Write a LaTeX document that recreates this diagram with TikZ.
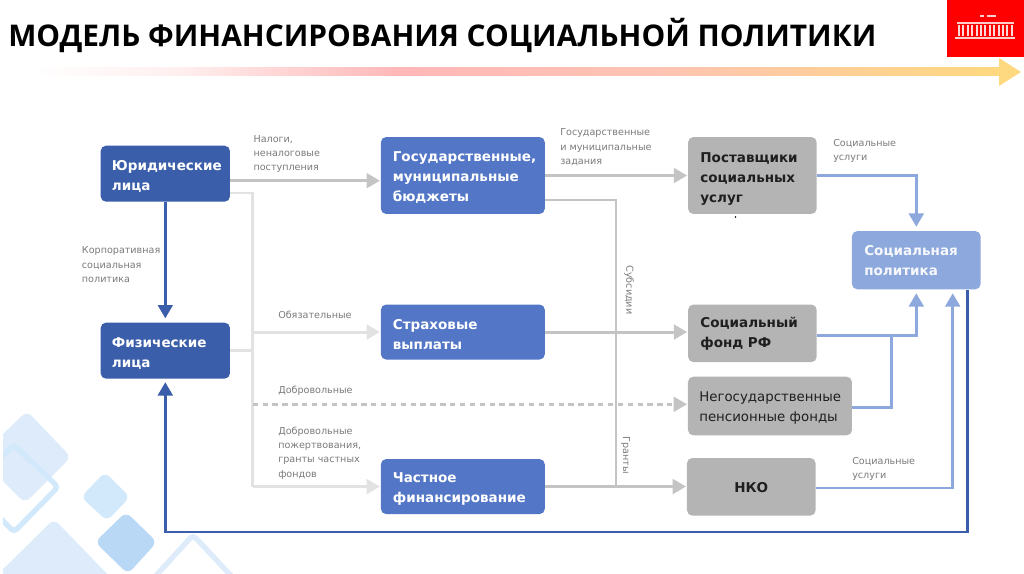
\documentclass[tikz,border=0pt]{standalone}
\usepackage{fontspec}
\setmainfont{DejaVu Sans}
\newfontfamily\titlefont{Open Sans}
\usetikzlibrary{positioning,arrows.meta,calc}
\definecolor{navybox}{HTML}{3A5EA9}
\definecolor{midbox}{HTML}{5377C6}
\definecolor{skybox}{HTML}{8DA8DC}
\definecolor{ashbox}{HTML}{B4B4B4}
\definecolor{ashline}{HTML}{C4C4C4}
\definecolor{paleline}{HTML}{E2E2E2}
\definecolor{tiletint}{HTML}{DDEBFA}
\definecolor{rimtint}{HTML}{D2E9FB}
\definecolor{deeptint}{HTML}{B9D8F6}
\definecolor{bandend}{HTML}{FFD97F}
\pgfdeclarehorizontalshading{bandshade}{100bp}{
    color(0bp)=(white); color(25bp)=(white); color(32.5bp)=(red!6); color(44bp)=(red!28);
    color(57.5bp)=(orange!45!red!30); color(75bp)=(bandend); color(100bp)=(bandend)
}
\tikzset{
    dropped/.style={execute at begin node={\rule{0pt}{#1}}},
    finbox/.style={
        rounded corners=4pt,draw=none,align=left,inner sep=0pt,font=\bfseries\fontsize{10.15}{15}\selectfont,
        minimum height=#1
    },
    navynode/.style={finbox=42pt,fill=navybox,text=white,minimum width=97pt,text width=80pt,dropped=11.1pt},
    bluenode/.style={finbox=#1,fill=midbox,text=white,minimum width=123pt,text width=105pt,dropped=10.6pt},
    ashnode/.style={finbox=#1,fill=ashbox,text=black!88,minimum width=96.5pt,text width=78pt},
    lbl/.style={
        anchor=north west,inner sep=0pt,align=left,text=black!52,font=\fontsize{7.2}{10.6}\selectfont
    },
    sidelbl/.style={inner sep=0pt,text=black!52,font=\fontsize{7.2}{10.6}\selectfont,rotate=-90},
    flow/.style={line width=2.2pt,-{Triangle[length=10pt,width=11pt]},shorten >=.5pt},
    bus/.style={line width=2.2pt},
    tile/.style={fill=tiletint,rounded corners=5pt},
    tilerim/.style={draw=rimtint,line width=4pt,rounded corners=3pt}
}

\begin{document}
\begin{tikzpicture}[x=.75pt,y=-.75pt]
\useasboundingbox (0,0) rectangle (1024,574);

% tiles in the corner
\begin{scope}
\clip (3,400) rectangle (300,574);
\fill[tile] (27,411) -- (71,457) -- (25,503) -- (-21,457) -- cycle;
\draw[tilerim] (14,445) -- (58,487) -- (14,532) -- (-30,487) -- cycle;
\fill[tile,fill=rimtint] (105,472) -- (130,497) -- (107,521) -- (81,497) -- cycle;
\fill[tile,fill=deeptint] (126,512) -- (157,542) -- (128,574) -- (95,542) -- cycle;
\fill[tile] (54,519) -- (115,582) -- (-10,582) -- cycle;
\draw[tilerim,draw=tiletint] (193,535) -- (235,580) -- (152,580) -- cycle;
\end{scope}

% header
\node[anchor=west,inner sep=0pt,font=\titlefont\bfseries\fontsize{22.4}{26}\selectfont] (title) at (8,35) {МОДЕЛЬ ФИНАНСИРОВАНИЯ СОЦИАЛЬНОЙ ПОЛИТИКИ};
\shade[shading=bandshade] (30,68) rectangle (1000,76);
\fill[bandend] (999,58) -- (1021,72) -- (999,86) -- cycle;
\fill[red] (947,0) rectangle (1024,57);
% building on the badge
\begin{scope}[white]
\fill[opacity=.8] (957,22) rectangle (1014,24);
\fill[opacity=.8] (955,37) rectangle (1015,39);
\foreach \i in {0,...,12} {
    \fill[opacity=.85] ({958+4.4*\i},25) rectangle ++(2,11);
}
\fill[opacity=.8] (980,15.5) rectangle (984,17);
\fill[opacity=.8] (987,15.5) rectangle (996,17);
\end{scope}

% boxes
\node[navynode] (yur) at (165.3,173.7) {Юридические\\лица};
\node[navynode,below=90.3pt of yur] (fiz) {Физические\\лица};
\node[bluenode=57.7pt] (gos) at (462.85,175.5) {Государственные,\\муниципальные\\бюджеты};
\node[bluenode=41.3pt,below=67.5pt of gos] (strakh) {Страховые\\выплаты};
\node[bluenode=41.3pt,below=74.2pt of strakh] (chast) {Частное\\финансирование};
\node[ashnode=57.7pt,dropped=12.1pt,right=107pt of gos] (post) {Поставщики\\социальных\\услуг};
\node[ashnode=43.2pt,below=67.5pt of post] (fond) {Социальный\\фонд РФ};
\node[ashnode=44pt,dropped=10.6pt,anchor=west,minimum width=123pt,text width=106pt,font=\fontsize{10}{15}\selectfont] (negos) at (687.7,406) {Негосударственные\\пенсионные фонды};
\node[ashnode=43.2pt,dropped=9.1pt,anchor=west,align=center] (nko) at (686.7,486.8) {НКО};
\node[finbox=43.7pt,fill=skybox,text=white!92!skybox,minimum width=96.5pt,text width=78pt] (polit) at (916.3,260.2) {Социальная\\политика};
\fill[black] (735.5,217) circle (.6pt);

% junctions
\coordinate (lowbus) at (252.7,193);
\coordinate (subbus) at (616,200);
\coordinate (dashrow) at (252.7,404.3);
\coordinate (wayback) at (967.3,532);
\coordinate (pensup) at (891.3,335.7);
\coordinate (nkoup) at (952.7,488);

% money in
\draw[bus,paleline] (yur.east |- lowbus) -- (lowbus) -- (lowbus |- chast.west);
\draw[bus,paleline] (fiz.east |- 0,350.7) -- (lowbus |- 0,350.7);
\draw[flow,paleline] (lowbus |- strakh.west) -- (strakh.west);
\draw[flow,paleline] (lowbus |- chast.west) -- (chast.west);
\draw[flow,ashline] (yur.east |- 0,180.7) -- (gos.west |- 0,180.7);
\draw[flow,ashline,dash pattern=on 4pt off 3.4pt] (dashrow) -- (dashrow -| negos.west);

% money out
\draw[flow,ashline] (gos.east) -- (post.west);
\draw[bus,ashline] (gos.east |- subbus) -- (subbus) -- (subbus |- chast.east);
\draw[flow,ashline] (strakh.east) -- (strakh.east -| fond.west);
\draw[flow,ashline] (chast.east) -- (chast.east -| nko.west);

% services
\draw[flow,skybox,shorten >=3pt] (post.east) -| (polit.north);
\draw[flow,skybox] (fond.east |- pensup) -| ($(polit.south)+(0,3)$);
\draw[bus,skybox] (negos.east |- 0,407.7) -| (pensup);
\draw[flow,skybox] (nko.east |- nkoup) -| ($(polit.south -| nkoup)+(0,3)$);

% back to people
\draw[flow,navybox,shorten >=3pt] (yur.south) -- (fiz.north);
\draw[flow,navybox,shorten >=2.5pt] (polit.south -| wayback) |- (fiz.south |- wayback) -- (fiz.south);

% labels
\node[lbl] (lnalog) at (253.3,135) {Налоги,\\неналоговые\\поступления};
\node[lbl] (lkorp) at (81.7,246.7) {Корпоративная\\социальная\\политика};
\node[lbl] (lobyaz) at (278,311.2) {Обязательные};
\node[lbl] (ldobr) at (278,386) {Добровольные};
\node[lbl] (lpozh) at (278,427) {Добровольные\\пожертвования,\\гранты частных\\фондов};
\node[lbl] (lzad) at (560,128.7) {Государственные\\и муниципальные\\задания};
\node[lbl] (luslug) at (833,139.3) {Социальные\\услуги};
\node[lbl] (luslugb) at (852,457.2) {Социальные\\услуги};
\node[sidelbl] (lsubs) at (629,290) {Субсидии};
\node[sidelbl] (lgrant) at (625.7,455) {Гранты};
\end{tikzpicture}
\end{document}
